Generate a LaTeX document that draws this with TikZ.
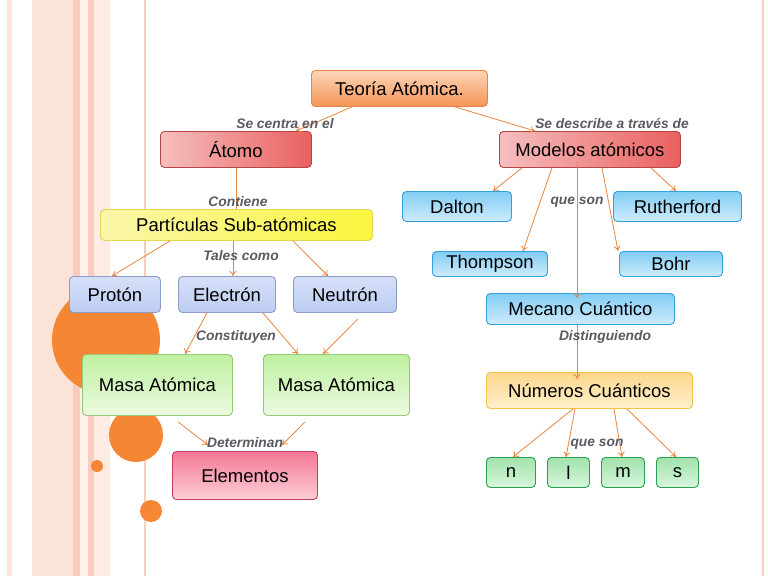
\documentclass[tikz,border=0pt]{standalone}
\usepackage{fontspec}
\setmainfont{Liberation Sans}
\usetikzlibrary{arrows.meta}
\definecolor{ar}{HTML}{E8843C}
\definecolor{lbl}{HTML}{5A5A62}
\definecolor{stripe}{HTML}{FCE3D8}
\definecolor{stripeD}{HTML}{F9CDBD}
\definecolor{circ}{HTML}{F58634}
\tikzset{
 x=1pt,y=-1pt,
 box/.style={rounded corners=4pt,line width=0.9pt,inner sep=0pt,font=\fontsize{18.5}{19}\selectfont,anchor=north west},
 lab/.style={font=\fontsize{13.8}{14}\selectfont\bfseries\itshape,text=lbl,inner sep=1pt},
 con/.style={draw=ar,line width=0.8pt,-{To[length=5pt,width=7pt]}},
 orangebox/.style={box,top color={rgb,255:red,252;green,214;blue,184},bottom color={rgb,255:red,246;green,148;blue,86},draw={rgb,255:red,232;green,130;blue,70}},
 redbox/.style={box,left color={rgb,255:red,246;green,190;blue,190},right color={rgb,255:red,234;green,96;blue,96},draw={rgb,255:red,180;green,70;blue,70}},
 yelbox/.style={box,left color={rgb,255:red,250;green,246;blue,170},right color={rgb,255:red,250;green,246;blue,60},draw={rgb,255:red,228;green,214;blue,80}},
 lavbox/.style={box,top color={rgb,255:red,214;green,224;blue,248},bottom color={rgb,255:red,188;green,204;blue,242},draw={rgb,255:red,140;green,156;blue,200}},
 grnbox/.style={box,top color={rgb,255:red,190;green,240;blue,160},bottom color={rgb,255:red,236;green,250;blue,224},draw={rgb,255:red,150;green,200;blue,120}},
 pinkbox/.style={box,top color={rgb,255:red,244;green,120;blue,150},bottom color={rgb,255:red,252;green,206;blue,214},draw={rgb,255:red,200;green,60;blue,100}},
 cyanbox/.style={box,top color={rgb,255:red,130;green,204;blue,244},bottom color={rgb,255:red,206;green,236;blue,252},draw={rgb,255:red,50;green,160;blue,220}},
 goldbox/.style={box,top color={rgb,255:red,253;green,214;blue,140},bottom color={rgb,255:red,254;green,240;blue,206},draw={rgb,255:red,240;green,196;blue,70}},
 qbox/.style={box,top color={rgb,255:red,160;green,226;blue,170},bottom color={rgb,255:red,216;green,246;blue,220},draw={rgb,255:red,40;green,160;blue,80}},
}
\newcommand{\bx}[7]{\node[#2,minimum width=#5-#3,minimum height=#6-#4] (#1) at (#3,#4) {#7};}
\begin{document}
\begin{tikzpicture}
\useasboundingbox (0,0) rectangle (768,576);
\fill[white] (0,0) rectangle (768,576);
% stripes
\fill[stripe] (7,0) rectangle (12,576);
\fill[stripe] (32,0) rectangle (73,576);
\fill[stripeD] (73,0) rectangle (80,576);
\fill[stripe!50] (80,0) rectangle (88,576);
\fill[stripeD] (88,0) rectangle (94,576);
\fill[stripe!70] (94,0) rectangle (110,576);
\fill[stripeD] (144,0) rectangle (146,576);
\fill[stripeD] (762,0) rectangle (764,576);
% circles
\fill[circ] (106,340) circle (54);
\fill[circ] (136,435) circle (27);
\fill[circ] (97,466) circle (6);
\fill[circ] (151,511) circle (11);
% boxes
\bx{teo}{orangebox}{311}{70}{487}{106}{Teoría Atómica.}
\bx{ato}{redbox}{160}{131}{311}{167}{Átomo}
\bx{mod}{redbox}{499}{131}{680}{167}{Modelos atómicos}
\bx{par}{yelbox}{100}{209}{372}{240}{Partículas Sub-atómicas}
\bx{pro}{lavbox}{69}{276}{160}{312}{Protón}
\bx{ele}{lavbox}{178}{276}{275}{312}{Electrón}
\bx{neu}{lavbox}{293}{276}{396}{312}{Neutrón}
\bx{ma1}{grnbox}{82}{354}{232}{415}{Masa Atómica}
\bx{ma2}{grnbox}{263}{354}{409}{415}{Masa Atómica}
\bx{ele2}{pinkbox}{172}{451}{317}{499}{Elementos}
\bx{dal}{cyanbox}{402}{191}{511}{221}{Dalton}
\bx{rut}{cyanbox}{613}{191}{741}{221}{Rutherford}
\bx{tho}{cyanbox}{432}{251}{547}{276}{Thompson}
\bx{boh}{cyanbox}{619}{251}{722}{276}{Bohr}
\bx{mec}{cyanbox}{486}{293}{674}{324}{Mecano Cuántico}
\bx{num}{goldbox}{486}{372}{692}{408}{Números Cuánticos}
\bx{qn}{qbox}{486}{457}{535}{487}{n}
\bx{ql}{qbox}{547}{457}{589}{487}{l}
\bx{qm}{qbox}{601}{457}{644}{487}{m}
\bx{qs}{qbox}{656}{457}{698}{487}{s}
% connectors
\draw[con] (teo.south west)++(41,0) -- ([xshift=-16pt]ato.north east);
\draw[con] (teo.south west)++(144,0) -- ([xshift=36pt]mod.north west);
\draw[draw=ar,line width=0.8pt] (ato.south) -- (ato.south|-par.north);
\draw[con] ([xshift=70pt]par.south west) -- ([xshift=43pt]pro.north west);
\draw[con] ([xshift=133pt]par.south west) -- ([xshift=55pt]ele.north west);
\draw[con] ([xshift=193pt]par.south west) -- ([xshift=35pt]neu.north west);
\draw[con] ([xshift=46pt]pro.south west) -- ([xshift=53pt]ma1.north west);
\draw[con] ([xshift=29pt]ele.south west) -- ([xshift=103pt]ma1.north west);
\draw[con] ([xshift=85pt]ele.south west) -- ([xshift=35pt]ma2.north west);
\draw[con] ([xshift=65pt,yshift=-6pt]neu.south west) -- ([xshift=60pt]ma2.north west);
\draw[con] ([xshift=96pt,yshift=-6pt]ma1.south west) -- ([xshift=36pt,yshift=6pt]ele2.north west);
\draw[con] ([xshift=42pt,yshift=-6pt]ma2.south west) -- ([xshift=110pt,yshift=6pt]ele2.north west);
\draw[con] ([xshift=23pt]mod.south west) -- ([xshift=91pt]dal.north west);
\draw[con] ([xshift=53pt]mod.south west) -- ([xshift=91pt]tho.north west);
\draw[con] ([xshift=78pt,yshift=6pt]mod.south west) -- ([xshift=91pt,yshift=-5pt]mec.north west);
\draw[con] ([xshift=103pt]mod.south west) -- ([xshift=-1pt]boh.north west);
\draw[con] ([xshift=152pt]mod.south west) -- ([xshift=63pt]rut.north west);
\draw[con] ([xshift=91pt]mec.south west) -- ([xshift=91pt,yshift=-7pt]num.north west);
\draw[con] ([xshift=87pt]num.south west) -- ([xshift=27pt]qn.north west);
\draw[con] ([xshift=89pt]num.south west) -- ([xshift=19pt]ql.north west);
\draw[con] ([xshift=128pt]num.south west) -- ([xshift=21pt]qm.north west);
\draw[con] ([xshift=141pt]num.south west) -- ([xshift=20pt]qs.north west);
% labels
\node[lab] (l1) at (285,124) {Se centra en el};
\node[lab] (l2) at (612,124) {Se describe a través de};
\node[lab] (l3) at (238,202) {Contiene};
\node[lab] (l4) at (241,256) {Tales como};
\node[lab] (l5) at (236,337) {Constituyen};
\node[lab] (l6) at (245,443) {Determinan};
\node[lab] (l7) at (577,202) {que son};
\node[lab] (l8) at (605,337) {Distinguiendo};
\node[lab] (l9) at (597,444) {que son};
\end{tikzpicture}
\end{document}
